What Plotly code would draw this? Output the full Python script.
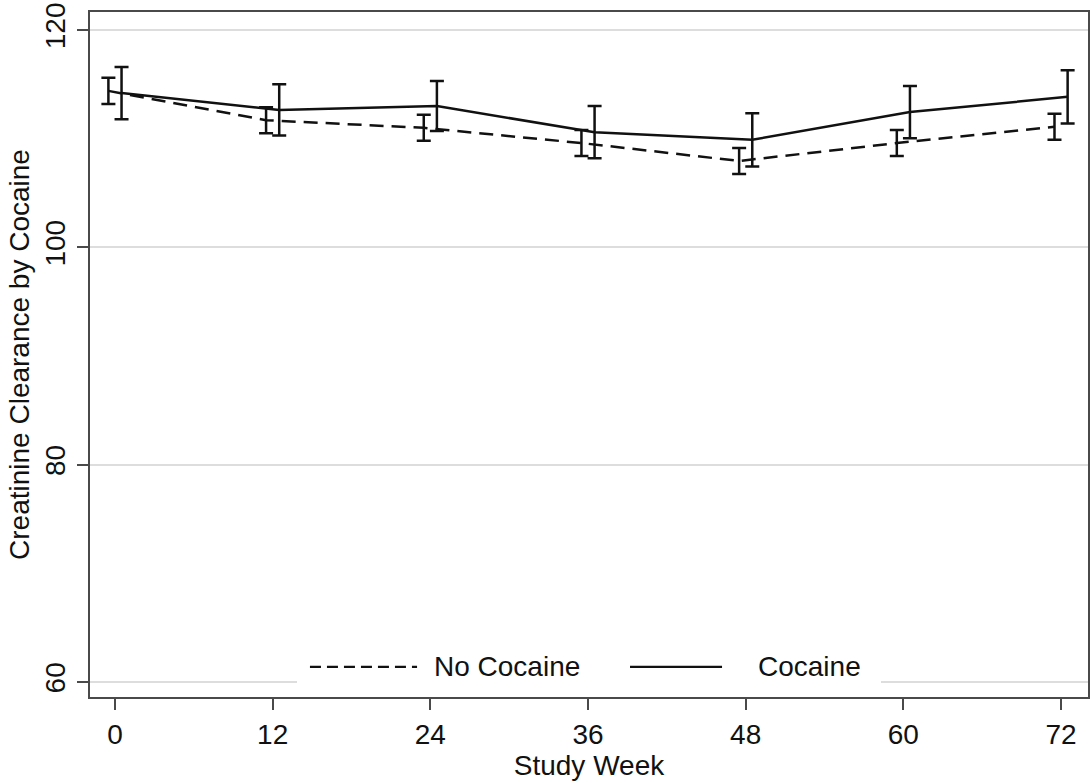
import plotly.graph_objects as go

# ---- data ----
weeks = [0, 12, 24, 36, 48, 60, 72]
no_cocaine_mean = [114.4, 111.7, 111.0, 109.6, 107.95, 109.6, 111.1]
no_cocaine_se = [1.2, 1.2, 1.2, 1.2, 1.2, 1.2, 1.2]
cocaine_mean = [114.2, 112.65, 113.0, 110.6, 109.9, 112.45, 113.85]
cocaine_se = [2.4, 2.35, 2.3, 2.4, 2.45, 2.4, 2.45]
y_ticks = [60, 80, 100, 120]
x_ticks = [0, 12, 24, 36, 48, 60, 72]
series_names = ["No Cocaine", "Cocaine"]

FONT = "Liberation Sans, Arial, Helvetica, sans-serif"
INK = "#111111"
FRAME = "#4a4a4a"
FS = 28

offset = 0.5  # horizontal dodge of the two groups (weeks)

fig = go.Figure()
fig.add_trace(go.Scatter(
    x=[w - offset for w in weeks], y=no_cocaine_mean, mode="lines",
    name=series_names[0], showlegend=False,
    line=dict(color=INK, width=2.5, dash="14px,8px"),
    error_y=dict(type="data", array=no_cocaine_se, visible=True,
                 color=INK, thickness=2.5, width=7),
))
fig.add_trace(go.Scatter(
    x=[w + offset for w in weeks], y=cocaine_mean, mode="lines",
    name=series_names[1], showlegend=False,
    line=dict(color=INK, width=2.5),
    error_y=dict(type="data", array=cocaine_se, visible=True,
                 color=INK, thickness=2.5, width=7),
))

# ---- legend (drawn in paper coordinates, inside the plot) ----
ly = 0.044
shapes = [
    dict(type="rect", xref="paper", yref="paper", x0=0.2074, x1=0.7926,
         y0=0.004, y1=0.075, fillcolor="white", line=dict(width=0), layer="above"),
    dict(type="line", xref="paper", yref="paper", x0=0.2204, x1=0.3277,
         y0=ly, y1=ly, line=dict(color=INK, width=2.2, dash="11px,6px"), layer="above"),
    dict(type="line", xref="paper", yref="paper", x0=0.5411, x1=0.6333,
         y0=ly, y1=ly, line=dict(color=INK, width=2.2), layer="above"),
]
annotations = [
    dict(xref="paper", yref="paper", x=0.3427, y=ly, text=series_names[0],
         showarrow=False, xanchor="left", yanchor="middle",
         font=dict(family=FONT, size=FS, color=INK)),
    dict(xref="paper", yref="paper", x=0.6673, y=ly, text=series_names[1],
         showarrow=False, xanchor="left", yanchor="middle",
         font=dict(family=FONT, size=FS, color=INK)),
]

fig.update_layout(
    width=1090, height=783,
    margin=dict(l=90, r=2, t=12, b=86),
    paper_bgcolor="white", plot_bgcolor="white",
    font=dict(family=FONT, size=FS, color=INK),
    shapes=shapes, annotations=annotations,
    showlegend=False,
    xaxis=dict(
        range=[-1.9, 74.05], tickvals=x_ticks, ticktext=[str(v) for v in x_ticks],
        showgrid=False, zeroline=False, automargin=False,
        showline=True, linecolor=FRAME, linewidth=2, mirror=True,
        ticks="outside", ticklen=11, tickwidth=1.5, tickcolor=FRAME,
        tickfont=dict(family=FONT, size=FS, color=INK),
        title=dict(text="Study Week", font=dict(family=FONT, size=FS, color=INK), standoff=0),
    ),
    yaxis=dict(
        range=[58.62, 121.66], tickvals=y_ticks, ticktext=[str(v) for v in y_ticks],
        showgrid=True, gridcolor="#dddddd", gridwidth=1.5, zeroline=False, automargin=False,
        showline=True, linecolor=FRAME, linewidth=2, mirror=True,
        ticks="outside", ticklen=11, tickwidth=1.5, tickcolor=FRAME,
        tickangle=-90, ticklabelstandoff=1,
        tickfont=dict(family=FONT, size=FS, color=INK),
        title=dict(text="Creatinine Clearance by Cocaine",
                   font=dict(family=FONT, size=FS, color=INK), standoff=2),
    ),
)

fig.write_html(
    "out.html",
    config={"displayModeBar": False},
    post_script="document.body.style.margin='0';document.body.style.overflow='hidden';",
)
